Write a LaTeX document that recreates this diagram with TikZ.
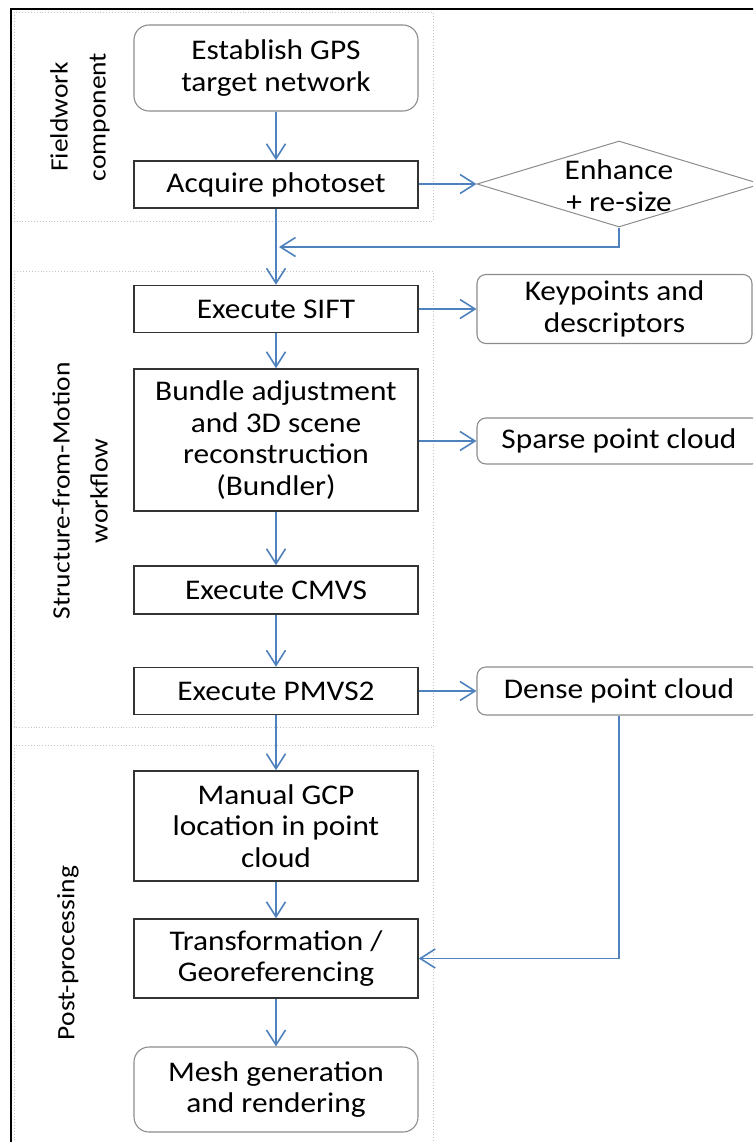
\documentclass[tikz,border=0pt]{standalone}
\usepackage{fontspec}
\setmainfont{Carlito}[FakeStretch=1.1]
\usetikzlibrary{arrows.meta,shapes.geometric}
\definecolor{flowblue}{HTML}{4F81BD}
\definecolor{boxline}{HTML}{333333}
\definecolor{softline}{HTML}{8C8C8C}
\definecolor{groupline}{HTML}{C4C4C4}

\begin{document}
\begin{tikzpicture}[x=1pt,y=-1pt,
  every node/.style={font=\fontsize{28.5}{31.7}\selectfont, align=center, inner sep=0pt},
  procbox/.style={draw=boxline, line width=1.5pt, fill=white, minimum width=284pt},
  termbox/.style={draw=softline, line width=1.1pt, fill=white, minimum width=284pt, rounded corners=15pt},
  outbox/.style={draw=softline, line width=1.1pt, fill=white, rounded corners=9pt},
  decision/.style={diamond, draw=softline, line width=1pt, fill=white, minimum width=284pt, minimum height=86pt},
  grouplabel/.style={rotate=90, font=\fontsize{25}{38}\selectfont},
  groupbox/.style={draw=groupline, line width=0.9pt, dotted},
  flow/.style={draw=flowblue, line width=1.6pt, -{Straight Barb[length=15pt,width=19pt]}}]

\useasboundingbox (0,0) rectangle (753,1142);
\clip (0,0) rectangle (753,1142);

% outer frame
\draw[line width=2.6pt] (11,1160) -- (11,9) -- (770,9);

% group outlines
\draw[groupbox] (14,12) rectangle (433,221);
\draw[groupbox] (14,271) rectangle (433,727);
\draw[groupbox] (14,745) rectangle (433,1170);

% group labels
\node[grouplabel] (lfield) at (80,117) {Fieldwork\\component};
\node[grouplabel] (lsfm) at (80,491) {Structure-from-Motion\\workflow};
\node[grouplabel] (lpost) at (68,953) {Post-processing};

% main column
\node[termbox, minimum height=86pt] (gps) at (276,68) {Establish GPS\\target network};
\node[procbox, minimum height=47pt] (acq) at (276,184.5) {Acquire photoset};
\node[procbox, minimum height=47pt] (sift) at (276,309) {Execute SIFT};
\node[procbox, minimum height=142pt] (bundle) at (276,440) {Bundle adjustment\\and 3D scene\\reconstruction\\(Bundler)};
\node[procbox, minimum height=48pt] (cmvs) at (276,590) {Execute CMVS};
\node[procbox, minimum height=47pt] (pmvs) at (276,691) {Execute PMVS2};
\node[procbox, minimum height=110pt] (manual) at (276,826) {Manual GCP\\location in point\\cloud};
\node[procbox, minimum height=79pt] (trans) at (276,958.5) {Transformation /\\Georeferencing};
\node[termbox, minimum height=85pt] (mesh) at (276,1089.5) {Mesh generation\\and rendering};

% side column
\node[decision] (enh) at (619,184) {};
\node (enhtext) at (619,186) {\fontsize{28.5}{29}\selectfont Enhance\\+ re-size};
\node[outbox, minimum width=275pt, minimum height=69pt] (kp) at (614.5,309) {Keypoints and\\descriptors};
\node[outbox, minimum width=284pt, minimum height=46pt] (sparse) at (619,441) {Sparse point cloud};
\node[outbox, minimum width=284pt, minimum height=48pt] (dense) at (619,691) {Dense point cloud};

\coordinate (ret) at (279,247);

% connectors
\draw[flow] (gps) -- (acq);
\draw[flow] (acq.east |- enh.west) -- (enh.west);
\draw[flow] (enh.south) |- (ret);
\draw[flow] (acq) -- (sift);
\draw[flow] (sift.east) -- (kp.west);
\draw[flow] (sift) -- (bundle);
\draw[flow] (bundle.east |- sparse.west) -- (sparse.west);
\draw[flow] (bundle) -- (cmvs);
\draw[flow] (cmvs) -- (pmvs);
\draw[flow] (pmvs.east) -- (dense.west);
\draw[flow] (pmvs) -- (manual);
\draw[flow] (manual) -- (trans);
\draw[flow] (trans) -- (mesh);
\draw[flow] (dense.south) |- (trans.east);
\end{tikzpicture}
\end{document}
